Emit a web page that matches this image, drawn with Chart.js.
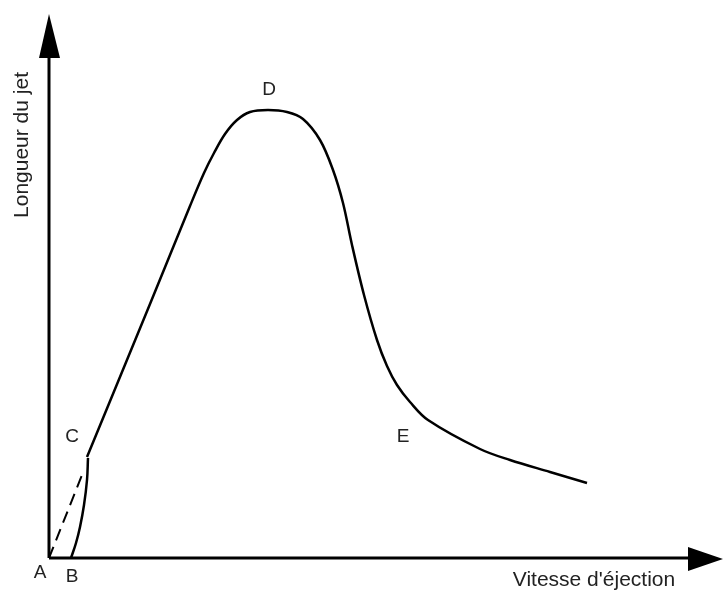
<!DOCTYPE html>
<html>
<head>
<meta charset="utf-8">
<style>
  html, body { margin: 0; padding: 0; background: #fff; }
  #wrap { width: 723px; height: 592px; }
</style>
</head>
<body>
<div id="wrap"><canvas id="jetChart"></canvas></div>

<script src="https://cdn.jsdelivr.net/npm/chart.js"></script>

<script>
  // arbitrary units (origin = A)
  const bcX = [22, 27, 31, 35, 38, 39];
  const bcY = [0, 15, 31, 53, 78, 100];

  const mainX = [38, 101, 141, 155, 165, 176, 188, 201, 219, 238, 254, 271, 284, 294, 303, 315, 328, 338, 348, 361, 379, 431, 461, 501, 538];
  const mainY = [101, 254, 352, 385, 405, 424, 438, 446, 448, 446, 439, 418, 388, 355, 313, 263, 218, 192, 173, 156, 138, 109, 98, 86, 75];

  const dashX = [0, 35];
  const dashY = [0, 88];

  const pointLabels = ['A', 'B', 'C', 'D', 'E'];
  const pointLabelX = [-9, 23, 23, 220, 354];
  const pointLabelY = [-15, -19, 121, 468, 121];

  const xTitle = "Vitesse d'éjection";
  const yTitle = 'Longueur du jet';

  function toPoints(xs, ys) {
      return xs.map(function (x, i) { return { x: x, y: ys[i] }; });
  }

  // axes with arrow heads, letters and axis titles
  const schemaPlugin = {
      id: 'schema',
      afterDatasetsDraw: function (chart) {
          const c = chart.ctx;
          const xs = chart.scales.x, ys = chart.scales.y;
          const ox = xs.getPixelForValue(0), oy = ys.getPixelForValue(0);
          const top = chart.chartArea.top, right = chart.chartArea.right;
          c.save();
          c.strokeStyle = '#000';
          c.fillStyle = '#000';
          c.lineWidth = 3;
          c.beginPath();
          c.moveTo(ox, oy);
          c.lineTo(ox, top + 40);
          c.moveTo(ox, oy);
          c.lineTo(right - 30, oy);
          c.stroke();
          // arrow heads
          c.beginPath();
          c.moveTo(ox, top);
          c.lineTo(ox - 10, top + 44);
          c.lineTo(ox + 11, top + 44);
          c.closePath();
          c.fill();
          c.beginPath();
          c.moveTo(right, oy + 1);
          c.lineTo(right - 35, oy - 11);
          c.lineTo(right - 35, oy + 13);
          c.closePath();
          c.fill();

          c.fillStyle = '#222';
          c.textAlign = 'center';
          c.textBaseline = 'middle';
          c.font = '19px "Liberation Sans", Arial, sans-serif';
          pointLabels.forEach(function (t, i) {
              c.fillText(t, xs.getPixelForValue(pointLabelX[i]), ys.getPixelForValue(pointLabelY[i]));
          });
          c.font = '21px "Liberation Sans", Arial, sans-serif';
          c.fillText(xTitle, 594, 580);
          c.translate(22, 145);
          c.rotate(-Math.PI / 2);
          c.fillText(yTitle, 0, 0);
          c.restore();
      }
  };

  const ctx = document.getElementById('jetChart');
  const jetChart = new Chart(ctx, {
      type: 'scatter',
      plugins: [schemaPlugin],
      data: {
          datasets: [
              {
                  label: 'BC',
                  data: toPoints(bcX, bcY),
                  showLine: true,
                  borderColor: '#000',
                  borderWidth: 2.5,
                  tension: 0.4,
                  pointRadius: 0,
              },
              {
                  label: 'CDE',
                  data: toPoints(mainX, mainY),
                  showLine: true,
                  borderColor: '#000',
                  borderWidth: 2.5,
                  tension: 0.35,
                  pointRadius: 0,
              },
              {
                  label: 'AC',
                  data: toPoints(dashX, dashY),
                  showLine: true,
                  borderColor: '#000',
                  borderWidth: 2,
                  borderDash: [12, 7],
                  pointRadius: 0,
              },
          ]
      },
      options: {
          responsive: true,
          maintainAspectRatio: false,
          animation: false,
          plugins: {
              legend: { display: false },
              tooltip: { enabled: false },
          },
          scales: {
              x: { type: 'linear', min: 0, max: 674, display: false },
              y: { type: 'linear', min: 0, max: 544, display: false },
          },
          layout: {
              padding: { left: 49, top: 14, right: 0, bottom: 34 }
          }
      }
  });
</script>
</body>
</html>
